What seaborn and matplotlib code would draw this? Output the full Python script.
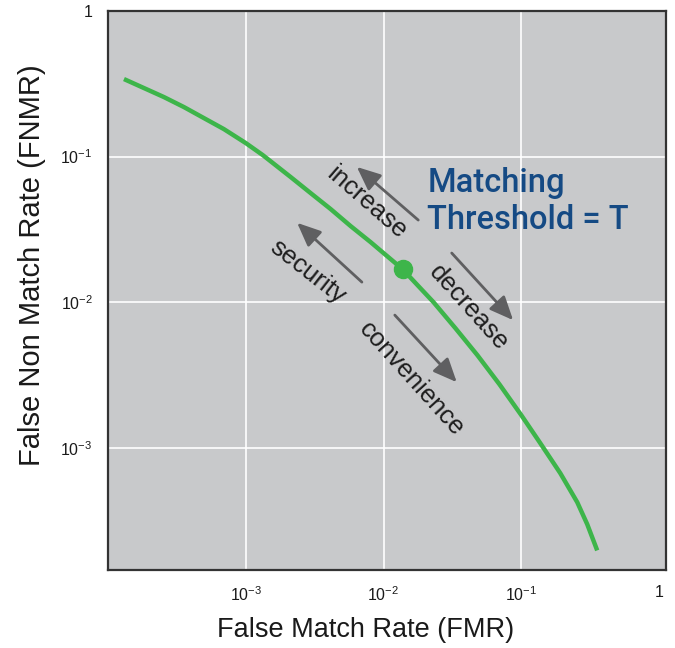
import numpy as np
import pandas as pd
import seaborn as sns
import matplotlib.pyplot as plt
from matplotlib.ticker import FixedLocator, NullLocator

# curve (log-log DET style curve)
fmr = [1.306e-4, 1.823e-4, 2.545e-4, 3.554e-4, 4.962e-4, 6.93e-4, 1.0e-3, 1.328e-3,
       2.119e-3, 2.958e-3, 4.13e-3, 5.77e-3, 8.05e-3, 1.0e-2, 1.373e-2, 1.763e-2,
       2.303e-2, 3.32e-2, 4.80e-2, 6.93e-2, 0.1, 0.1373, 0.1918, 0.2546, 0.3008, 0.3554]
fnmr = [0.3408, 0.2956, 0.2564, 0.2189, 0.1839, 0.1545, 0.1238, 0.1024,
        0.0723, 0.0561, 0.0436, 0.0333, 0.02585, 0.02172, 0.01686, 0.01309,
        0.0100, 0.00663, 0.00432, 0.00273, 0.001672, 0.001074, 0.000668, 0.000422,
        0.000298, 0.000197]

# operating point (threshold T)
point_fmr = 0.01373
point_fnmr = 0.01686

x_ticks = [1e-3, 1e-2, 1e-1, 1]
x_tick_labels = [r'$\mathregular{10^{-3}}$', r'$\mathregular{10^{-2}}$', r'$\mathregular{10^{-1}}$', '1']
y_ticks = [1e-3, 1e-2, 1e-1, 1]
y_tick_labels = [r'$\mathregular{10^{-3}}$', r'$\mathregular{10^{-2}}$', r'$\mathregular{10^{-1}}$', '1']

green = '#3db54a'
arrow_grey = '#5f5f61'
blue = '#154a84'

sns.set_style('darkgrid', {'axes.facecolor': '#c8c9cb', 'grid.color': 'white',
                           'axes.edgecolor': '#333333'})
plt.rcParams['font.family'] = ['Liberation Sans', 'DejaVu Sans']
plt.rcParams['mathtext.fontset'] = 'custom'
plt.rcParams['mathtext.rm'] = 'Liberation Sans'

df = pd.DataFrame({'FMR': fmr, 'FNMR': fnmr})

fig, ax = plt.subplots(figsize=(6.75, 6.48), dpi=100)
fig.subplots_adjust(left=108 / 675, right=666 / 675, top=1 - 11 / 648, bottom=1 - 570 / 648)

sns.lineplot(data=df, x='FMR', y='FNMR', color=green, lw=3.2, sort=False, ax=ax,
             solid_capstyle='butt')
ax.plot([point_fmr], [point_fnmr], 'o', color=green, markersize=13, zorder=5)

ax.set_xscale('log')
ax.set_yscale('log')
ax.set_xlim(1e-4, 10 ** 0.05)
ax.set_ylim(10 ** -3.84, 1)
ax.xaxis.set_major_locator(FixedLocator(x_ticks))
ax.yaxis.set_major_locator(FixedLocator(y_ticks))
ax.xaxis.set_minor_locator(NullLocator())
ax.yaxis.set_minor_locator(NullLocator())
ax.set_xticklabels(x_tick_labels)
ax.set_yticklabels(y_tick_labels)
ax.grid(True, color='white', lw=1.2)
ax.xaxis.get_gridlines()[-1].set_visible(False)   # no grid line at x = 1
ax.tick_params(axis='both', length=8, width=1.2, color='#eeeeee', labelsize=11.5,
               labelcolor='#1a1a1a', pad=3)

for s in ax.spines.values():
    s.set_visible(True)
    s.set_color('#333333')
    s.set_linewidth(1.6)

ax.set_xlabel('False Match Rate (FMR)', fontsize=19.5, color='#1a1a1a')
ax.set_ylabel('False Non Match Rate (FNMR)', fontsize=21, color='#1a1a1a')
ax.xaxis.set_label_coords(0.461, -0.084)
ax.yaxis.set_label_coords(-0.112, 0.546)

# threshold label
ax.text(0.572, 0.676, 'Matching', transform=ax.transAxes, color=blue,
        fontsize=23.5, fontweight='medium', family=['Roboto', 'DejaVu Sans'], va='baseline')
ax.text(0.572, 0.610, 'Threshold = T', transform=ax.transAxes, color=blue,
        fontsize=23.5, fontweight='medium', family=['Roboto', 'DejaVu Sans'], va='baseline')

# rotated words
words = [('increase', 0.464, 0.657, -41), ('security', 0.357, 0.533, -38),
         ('decrease', 0.647, 0.469, -48), ('convenience', 0.543, 0.342, -48)]
for w, fx, fy, rot in words:
    ax.text(fx, fy, w, transform=ax.transAxes, rotation=rot, rotation_mode='anchor',
            ha='center', va='center', fontsize=18.5, color='#1e1e1e')

# arrows (tail -> tip) in axes fraction
arrows = [((0.556, 0.626), (0.446, 0.721)), ((0.455, 0.515), (0.339, 0.621)),
          ((0.616, 0.567), (0.726, 0.447)), ((0.514, 0.456), (0.625, 0.336))]
for tail, tip in arrows:
    ax.annotate('', xy=tip, xytext=tail, xycoords='axes fraction', textcoords='axes fraction',
                arrowprops=dict(arrowstyle='-|>,head_width=0.35,head_length=0.8',
                                mutation_scale=18, lw=2.0, color=arrow_grey,
                                shrinkA=0, shrinkB=0))

plt.savefig('out.png', dpi=100)
